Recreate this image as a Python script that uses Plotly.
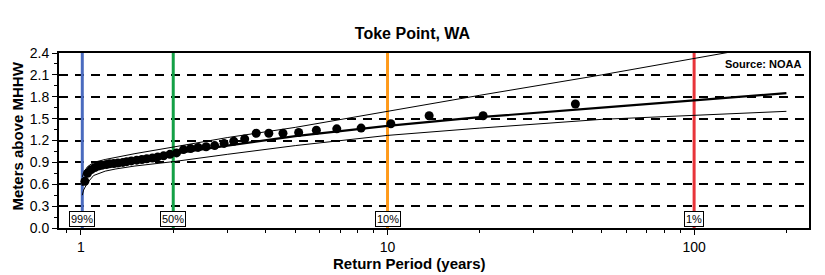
import numpy as np
import plotly.graph_objects as go

# Observed annual maxima (return period in years, meters above MHHW)
obs_period = [41.0, 20.5, 13.67, 10.25, 8.2, 6.83, 5.86, 5.13, 4.56, 4.1,
              3.73, 3.42, 3.15, 2.93, 2.73, 2.56, 2.41, 2.28, 2.16, 2.05,
              1.95, 1.86, 1.78, 1.71, 1.64, 1.58, 1.52, 1.46, 1.41, 1.37,
              1.32, 1.28, 1.24, 1.21, 1.17, 1.14, 1.11, 1.08, 1.05, 1.03]
obs_level = [1.70, 1.54, 1.54, 1.43, 1.37, 1.36, 1.34, 1.31, 1.30, 1.30,
             1.30, 1.22, 1.19, 1.16, 1.13, 1.115, 1.105, 1.09, 1.075, 1.03,
             1.01, 0.99, 0.975, 0.96, 0.95, 0.94, 0.93, 0.92, 0.91, 0.90,
             0.89, 0.885, 0.88, 0.87, 0.86, 0.85, 0.83, 0.80, 0.75, 0.64]

# Fitted curve and confidence bounds
fit_period = [1.01, 1.02, 1.05, 1.1, 1.2, 1.3, 1.5, 2, 3, 5, 10, 20, 50, 100, 200]
fit_mid = [0.58, 0.64, 0.72, 0.79, 0.85, 0.885, 0.93, 1.02, 1.13, 1.26, 1.40, 1.52, 1.65, 1.75, 1.85]
fit_upper = [0.70, 0.76, 0.84, 0.90, 0.94, 0.97, 1.02, 1.11, 1.24, 1.38, 1.60, 1.82, 2.10, 2.32, 2.55]
fit_lower = [0.45, 0.52, 0.62, 0.72, 0.78, 0.81, 0.85, 0.91, 1.01, 1.13, 1.27, 1.37, 1.49, 1.55, 1.60]

# Exceedance probability markers
prob_period = [1.0101, 2, 10, 100]
prob_label = ["99%", "50%", "10%", "1%"]
prob_color = ["#4a6bbf", "#14a046", "#ff9a1a", "#e8343a"]

y_ticks = [0.0, 0.3, 0.6, 0.9, 1.2, 1.5, 1.8, 2.1, 2.4]
x_ticks = [1, 10, 100]

FONT = "Liberation Sans, Arial, sans-serif"

fig = go.Figure()

for p, c in zip(prob_period, prob_color):
    fig.add_trace(go.Scatter(x=[p, p], y=[0, 2.4], mode="lines",
                             line=dict(color=c, width=3), hoverinfo="skip",
                             showlegend=False))

fig.add_trace(go.Scatter(x=fit_period, y=fit_upper, mode="lines",
                         line=dict(color="black", width=1), showlegend=False))
fig.add_trace(go.Scatter(x=fit_period, y=fit_lower, mode="lines",
                         line=dict(color="black", width=1), showlegend=False))
fig.add_trace(go.Scatter(x=fit_period, y=fit_mid, mode="lines",
                         line=dict(color="black", width=2.2), showlegend=False))
fig.add_trace(go.Scatter(x=obs_period, y=obs_level, mode="markers",
                         marker=dict(color="black", size=9), showlegend=False))

for p, lab in zip(prob_period, prob_label):
    fig.add_annotation(x=np.log10(p), y=0.12, xref="x", yref="y", text=lab,
                       showarrow=False, bgcolor="white", bordercolor="black",
                       borderwidth=1, borderpad=1,
                       font=dict(family=FONT, size=11, color="black"))

fig.add_annotation(x=1, y=1, xref="paper", yref="paper", xanchor="right",
                   yanchor="top", xshift=-6, yshift=-3, text="<b>Source: NOAA</b>",
                   showarrow=False, font=dict(family=FONT, size=11, color="black"))

# axis titles as annotations (centred on the figure like the reference)
fig.add_annotation(x=0.5, y=-0.2057, xref="paper", yref="paper",
                   text="<b>Return Period (years)</b>", showarrow=False,
                   xanchor="center", yanchor="middle", xshift=-25,
                   font=dict(family=FONT, size=15, color="black"))
fig.add_annotation(x=0, y=0.5, xref="paper", yref="paper",
                   text="<b>Meters above MHHW</b>", showarrow=False, textangle=-90,
                   xanchor="center", yanchor="middle", xshift=-42, yshift=4,
                   font=dict(family=FONT, size=15, color="black"))

fig.update_layout(
    width=825, height=275,
    margin=dict(l=59, r=16, t=53, b=47, autoexpand=False),
    paper_bgcolor="white", plot_bgcolor="white",
    font=dict(family=FONT, size=13, color="black"),
    title=dict(text="<b>Toke Point, WA</b>", x=0.5, xanchor="center", y=0.88,
               yanchor="middle", font=dict(family=FONT, size=16, color="black")),
    showlegend=False,
)

fig.update_xaxes(
    type="log", range=[np.log10(0.848), np.log10(237)], automargin=False,
    tickvals=x_ticks, ticktext=[str(v) for v in x_ticks],
    ticks="outside", ticklen=5, tickwidth=1, tickcolor="black",
    minor=dict(ticks="outside", ticklen=3, tickcolor="black",
               tickvals=[0.9, 2, 3, 4, 5, 6, 7, 8, 9, 20, 30, 40, 50, 60, 70, 80, 90, 200],
               showgrid=False),
    showgrid=False, zeroline=False,
    showline=True, linecolor="black", linewidth=2, mirror=True,
    tickfont=dict(family=FONT, size=14, color="black"),
)

fig.update_yaxes(
    range=[0, 2.4], tickvals=y_ticks, ticktext=["%.1f" % v for v in y_ticks],
    automargin=False,
    ticks="outside", ticklen=5, tickwidth=1, tickcolor="black",
    minor=dict(ticks="outside", ticklen=3, tickcolor="black", dtick=0.15,
               showgrid=False),
    showgrid=True, gridcolor="black", gridwidth=1.5, griddash="9px,7px",
    zeroline=False,
    showline=True, linecolor="black", linewidth=2, mirror=True,
    tickfont=dict(family=FONT, size=14, color="black"),
)

fig.write_html("out.html")
